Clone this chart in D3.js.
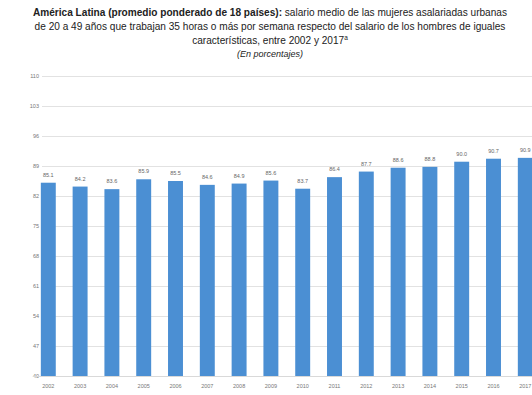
<!DOCTYPE html>
<html><head><meta charset="utf-8">
<script src="https://cdn.jsdelivr.net/npm/d3@7"></script>
<style>body{margin:0;background:#fff}svg{font-family:"Liberation Sans",Arial,sans-serif}</style>
</head><body><svg id="c" width="532" height="395"></svg>
<script>
const years = ["2002","2003","2004","2005","2006","2007","2008","2009","2010","2011","2012","2013","2014","2015","2016","2017"];
const values = [85.1,84.2,83.6,85.9,85.5,84.6,84.9,85.6,83.7,86.4,87.7,88.6,88.8,90.0,90.7,90.9];
const yTicks = [40,47,54,61,68,75,82,89,96,103,110];

const svg = d3.select("#c");
const m = {left:32.4, top:76, bottom:376};
const x = d3.scaleBand().domain(years).range([m.left, m.left + 16*31.8]).paddingInner(0.53).paddingOuter(0.265);
const y = d3.scaleLinear().domain([40,110]).range([m.bottom, m.top]);

// title
const t = svg.append("text").attr("text-anchor","middle").attr("font-size",10.1).attr("fill","#222");
const l1 = t.append("tspan").attr("x",270).attr("y",16);
l1.append("tspan").attr("font-weight","bold").text("América Latina (promedio ponderado de 18 países):");
l1.append("tspan").text(" salario medio de las mujeres asalariadas urbanas");
t.append("tspan").attr("x",270).attr("y",30).text("de 20 a 49 años que trabajan 35 horas o más por semana respecto del salario de los hombres de iguales");
t.append("tspan").attr("x",270).attr("y",44).text("características, entre 2002 y 2017");
t.append("tspan").attr("font-size",6.5).attr("dy",-4).text("a");
t.append("tspan").attr("x",270).attr("y",57).attr("font-style","italic").attr("font-size",9).text("(En porcentajes)");

// grid
const ax = svg.append("g").attr("transform",`translate(${42},0)`)
  .call(d3.axisLeft(y).tickValues(yTicks).tickSize(-500).tickPadding(3));
ax.select(".domain").remove();
ax.selectAll(".tick line").attr("stroke","#e2e2e2");
ax.selectAll(".tick text").attr("fill","#777").attr("font-size",5.5);

// bars
svg.append("g").selectAll("rect").data(values).join("rect")
  .attr("x",(d,i)=>x(years[i])).attr("width",x.bandwidth())
  .attr("y",d=>y(d)).attr("height",d=>y(40)-y(d)).attr("fill","#4b8fd3");

svg.append("g").selectAll("text").data(values).join("text")
  .attr("x",(d,i)=>x(years[i])+x.bandwidth()/2).attr("y",d=>y(d)-6)
  .attr("text-anchor","middle").attr("font-size",5.5).attr("fill","#666")
  .text(d=>d.toFixed(1));

// x axis
const xa = svg.append("g").attr("transform",`translate(0,${m.bottom})`).call(d3.axisBottom(x).tickSize(0).tickPadding(8));
xa.select(".domain").attr("stroke","#d9d9d9");
xa.selectAll(".tick text").attr("fill","#777").attr("font-size",5.5);
</script></body></html>
